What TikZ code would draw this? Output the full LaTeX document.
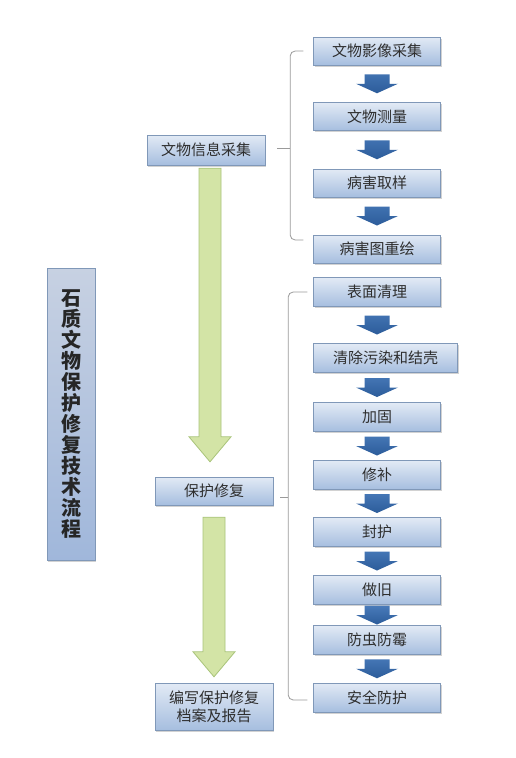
\documentclass[tikz,border=0pt]{standalone}
\usepackage{fontspec}
\setmainfont{Noto Sans CJK SC}
\usepackage{tikz}
\usetikzlibrary{arrows.meta, calc, shadows}

\definecolor{boxtop}{HTML}{E2EAF5}
\definecolor{boxbottom}{HTML}{A6BEDF}
\definecolor{boxline}{HTML}{8098B8}
\definecolor{titletop}{HTML}{C7D1E2}
\definecolor{titlebottom}{HTML}{A0B7DB}
\definecolor{flowblue}{HTML}{4A7CBB}
\definecolor{flowbluedark}{HTML}{2C5C9A}
\definecolor{leafgreen}{HTML}{D3E4A6}
\definecolor{leafline}{HTML}{A9C47A}
\definecolor{bracegray}{HTML}{9A9A9A}
\definecolor{textgray}{HTML}{2E2E2E}

\tikzstyle{stepbox} = [rectangle, minimum width=127pt, minimum height=29pt, align=center, draw=boxline, top color=boxtop, bottom color=boxbottom, text=textgray, font=\fontsize{15}{18}\selectfont, drop shadow={shadow xshift=1pt, shadow yshift=-1.5pt, opacity=0.35}]
\tikzstyle{mainbox} = [stepbox, minimum width=118pt]
\tikzstyle{titlebox} = [stepbox, minimum width=48pt, minimum height=292pt, top color=titletop, bottom color=titlebottom, text=black!85, font=\bfseries\fontsize{20}{21}\selectfont]
\tikzstyle{bracket} = [draw=bracegray, line width=0.8pt, rounded corners=5pt]
\tikzset{
  bluearrow/.style={draw=none, top color=flowblue, bottom color=flowbluedark, to path={
    let \p1=(\tikztostart), \p2=(\tikztotarget), \p3=($(\tikztostart)!0.5!(\tikztotarget)$) in
    (\x2-12.5pt,\y3+9.5pt) -- (\x2-12.5pt,\y3) -- (\x2-21pt,\y3) -- (\x2,\y3-9.5pt)
    -- (\x2+21pt,\y3) -- (\x2+12.5pt,\y3) -- (\x2+12.5pt,\y3+9.5pt) -- cycle}},
  greenarrow/.style 2 args={draw=leafline, line width=0.8pt, fill=leafgreen, to path={
    let \p1=(\tikztostart), \p2=(\tikztotarget), \p3=($(\tikztostart)!0.5!(\tikztotarget)$) in
    (\x3-11pt,\y1-#1) -- (\x3-11pt,\y2+#2+25pt) -- (\x3-21pt,\y2+#2+25pt) -- (\x3,\y2+#2)
    -- (\x3+21pt,\y2+#2+25pt) -- (\x3+11pt,\y2+#2+25pt) -- (\x3+11pt,\y1-#1) -- cycle}}
}

\begin{document}
\begin{tikzpicture}[node distance=66pt]
		\useasboundingbox [fill=white] (0,0) rectangle (516pt,-758pt);
		\node (title) [titlebox] at (71pt,-414pt) {石\\质\\文\\物\\保\\护\\修\\复\\技\\术\\流\\程};
		\node (info) [mainbox, minimum height=30pt] at (206pt,-150pt) {文物信息采集};
		\node (repair) [mainbox, minimum height=28pt, node distance=341pt, below of=info, xshift=8pt] {保护修复};
		\node (report) [mainbox, minimum height=47pt, node distance=215.5pt, below of=repair] {编写保护修复\\档案及报告};
		
		\node (photo) [stepbox, minimum height=28pt] at (377pt,-51pt) {文物影像采集};
		\node (measure) [stepbox, minimum height=28pt, node distance=65.5pt, below of=photo] {文物测量};
		\node (sample) [stepbox, minimum height=28pt, node distance=66.5pt, below of=measure] {病害取样};
		\node (redraw) [stepbox, minimum height=28pt, below of=sample] {病害图重绘};
		\node (surface) [stepbox, node distance=43pt, below of=redraw] {表面清理};
		\node (decon) [stepbox, minimum width=144pt, below of=surface, xshift=8.5pt] {清除污染和结壳};
		\node (fix) [stepbox, node distance=59pt, below of=decon, xshift=-8.5pt] {加固};
		\node (patch) [stepbox, node distance=58pt, below of=fix] {修补};
		\node (seal) [stepbox, node distance=57pt, below of=patch] {封护};
		\node (aging) [stepbox, node distance=58pt, below of=seal] {做旧};
		\node (insect) [stepbox, node distance=50pt, below of=aging] {防虫防霉};
		\node (safety) [stepbox, node distance=57.5pt, below of=insect] {安全防护};
		
		\draw [bracket] ([xshift=-10pt]photo.west) -| ([xshift=25pt]info.east) |- ([xshift=-10pt, yshift=9pt]redraw.west);
		\draw [bracket] ([xshift=12pt, yshift=2pt]info.east) -- ([xshift=25pt, yshift=2pt]info.east);
		\draw [bracket] ([xshift=-6pt]surface.west) -| ([xshift=15pt, yshift=-6pt]repair.east) |- ([xshift=-6pt, yshift=-2.5pt]safety.west);
		\draw [bracket] ([xshift=7pt, yshift=-6pt]repair.east) -- ([xshift=15pt, yshift=-6pt]repair.east);
		
		\draw [bluearrow] (photo.south) to (measure.north);
		\draw [bluearrow] (measure.south) to (sample.north);
		\draw [bluearrow] (sample.south) to (redraw.north);
		\draw [bluearrow] (surface.south) to (decon.north -| surface.south);
		\draw [bluearrow] (decon.south) to (fix.north);
		\draw [bluearrow] (fix.south) to (patch.north);
		\draw [bluearrow] (patch.south) to (seal.north);
		\draw [bluearrow] (seal.south) to (aging.north);
		\draw [bluearrow] (aging.south) to (insect.north);
		\draw [bluearrow] (insect.south) to (safety.north);
		
		\draw [greenarrow={3pt}{15pt}] (info.south) to (repair.north);
		\draw [greenarrow={12pt}{6pt}] (repair.south) to (report.north);
\end{tikzpicture}
\end{document}
